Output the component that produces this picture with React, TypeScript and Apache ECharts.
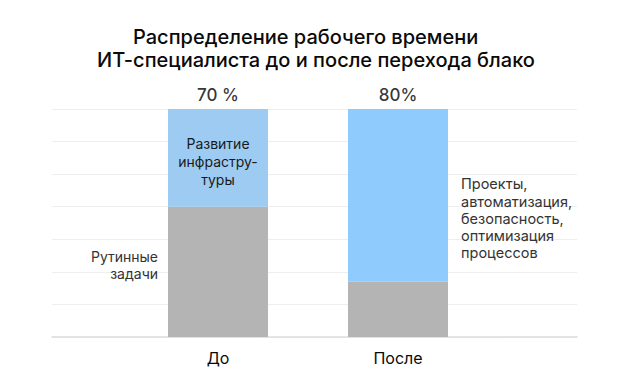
import React, { useEffect, useRef } from "react";
import * as echarts from "echarts";

const categories = ["До", "После"];
const routineValues = [4, 1.7];
const developmentValues = [3, 5.3];
const totalLabels = ["70 %", "80%"];
const titleLines = ["Распределение рабочего времени", "ИТ-специалиста до и после перехода блако"];
const routineLabel = "Рутинные\nзадачи";
const devLabelBefore = "Развитие\nинфрастру-\nтуры";
const devLabelAfter = "Проекты,\nавтоматизация,\nбезопасность,\nоптимизация\nпроцессов";
const yMax = 7;

const FONT = "Inter, 'Noto Sans', sans-serif";

export default function App() {
  const ref = useRef<HTMLDivElement>(null);
  useEffect(() => {
    if (!ref.current) return;
    const chart = echarts.init(ref.current, null, { renderer: "svg" });
    const blueColors = ["#9dcbf1", "#8fcbfc"];
    const totals = routineValues.map((v, i) => v + developmentValues[i]);
    chart.setOption({
      animation: false,
      backgroundColor: "#ffffff",
      textStyle: { fontFamily: FONT },
      graphic: [
        {
          type: "text",
          x: 133,
          y: 37,
          style: {
            text: titleLines[0],
            fontSize: 20,
            fontWeight: 500,
            fontFamily: FONT,
            fill: "#0a0a0a",
            align: "left",
            verticalAlign: "middle",
          },
        },
        {
          type: "text",
          x: 97,
          y: 60,
          style: {
            text: titleLines[1],
            fontSize: 20,
            fontWeight: 500,
            fontFamily: FONT,
            fill: "#0a0a0a",
            align: "left",
            verticalAlign: "middle",
          },
        },
      ],
      grid: [
        { left: 52, right: 51, top: 109, bottom: 45 },
        { left: 128, width: 360, top: 109, bottom: 45 },
      ],
      xAxis: [
        {
          gridIndex: 0,
          type: "category",
          data: [""],
          axisLine: { show: true, lineStyle: { color: "#dcdcdc", width: 1.5 } },
          axisTick: { show: false },
          axisLabel: { show: false },
          splitLine: { show: false },
        },
        {
          gridIndex: 1,
          type: "category",
          data: categories,
          axisLine: { show: false },
          axisTick: { show: false },
          axisLabel: { fontSize: 16, color: "#0a0a0a", margin: 13, fontFamily: FONT },
        },
      ],
      yAxis: [
        {
          gridIndex: 0,
          type: "value",
          min: 0,
          max: yMax,
          interval: 1,
          axisLine: { show: false },
          axisTick: { show: false },
          axisLabel: { show: false },
          splitLine: { show: true, lineStyle: { color: "#eeeeee", width: 1 } },
        },
        {
          gridIndex: 1,
          type: "value",
          min: 0,
          max: yMax,
          show: false,
        },
      ],
      series: [
        {
          type: "bar",
          xAxisIndex: 1,
          yAxisIndex: 1,
          stack: "total",
          barWidth: 100,
          itemStyle: { color: "#b4b4b4" },
          data: routineValues.map((v, i) =>
            i === 0
              ? {
                  value: v,
                  label: {
                    show: true,
                    position: "left",
                    distance: 10,
                    offset: [0, -7],
                    formatter: routineLabel,
                    align: "right",
                    fontSize: 14,
                    lineHeight: 17,
                    color: "#333333",
                    fontFamily: FONT,
                  },
                }
              : { value: v }
          ),
        },
        {
          type: "bar",
          xAxisIndex: 1,
          yAxisIndex: 1,
          stack: "total",
          barWidth: 100,
          data: developmentValues.map((v, i) => ({
            value: v,
            itemStyle: { color: blueColors[i] },
            label:
              i === 0
                ? {
                    show: true,
                    position: "inside",
                    offset: [0, 4],
                    formatter: devLabelBefore,
                    align: "center",
                    fontSize: 14,
                    lineHeight: 18,
                    color: "#1a1a1a",
                    fontFamily: FONT,
                  }
                : {
                    show: true,
                    position: "right",
                    distance: 13,
                    offset: [0, 23],
                    formatter: devLabelAfter,
                    align: "left",
                    fontSize: 14.5,
                    lineHeight: 17.3,
                    color: "#333333",
                    fontFamily: FONT,
                  },
          })),
        },
        {
          type: "scatter",
          xAxisIndex: 1,
          yAxisIndex: 1,
          symbolSize: 0,
          silent: true,
          data: totals.map((t, i) => ({
            value: [categories[i], t],
            label: {
              show: true,
              position: "top",
              distance: 6,
              formatter: totalLabels[i],
              fontSize: 17,
              fontWeight: 500,
              color: "#000000",
              fontFamily: FONT,
            },
          })),
        },
      ],
    });
    return () => chart.dispose();
  }, []);
  return (
    <div
      ref={ref}
      style={{ position: "fixed", left: 0, top: 0, width: 628, height: 382 }}
    />
  );
}
